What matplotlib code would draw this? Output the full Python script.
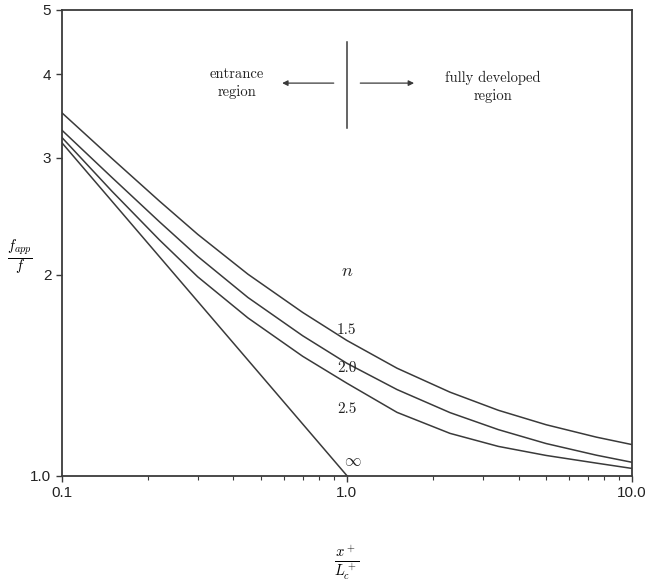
import numpy as np
import matplotlib
matplotlib.use('Agg')
import matplotlib.pyplot as plt
from matplotlib.ticker import FixedLocator, FixedFormatter, NullFormatter, LogLocator

# curves, one per n
x_pts = [0.1, 0.15, 0.22, 0.3, 0.45, 0.7, 1.0, 1.5, 2.3, 3.4, 5.0, 7.5, 10.0]
y_15 = [3.504, 2.991, 2.582, 2.301, 2.005, 1.757, 1.595, 1.449, 1.334, 1.253, 1.192, 1.142, 1.113]
y_20 = [3.300, 2.801, 2.404, 2.132, 1.850, 1.621, 1.474, 1.346, 1.243, 1.172, 1.117, 1.073, 1.047]
y_25 = [3.218, 2.671, 2.258, 1.987, 1.724, 1.510, 1.376, 1.244, 1.157, 1.106, 1.072, 1.044, 1.025]

x_inf = [0.1, 1.0]
y_inf = [3.16, 1.0]

curve_labels = ['1.5', '2.0', '2.5', r'$\infty$']
label_y = [1.65, 1.45, 1.26, 1.05]

xticks = [0.1, 1.0, 10.0]
xtick_labels = ['0.1', '1.0', '10.0']
yticks = [1.0, 2, 3, 4, 5]
ytick_labels = ['1.0', '2', '3', '4', '5']

plt.rcParams['mathtext.fontset'] = 'cm'
ink = '#3a3a3a'

fig = plt.figure(figsize=(6.46, 5.88), dpi=100)
ax = fig.add_axes([0.0955, 0.1912, 0.8828, 0.7923])

for ys in [y_15, y_20, y_25]:
    ax.plot(x_pts, ys, color=ink, lw=1.1)
ax.plot(x_inf, y_inf, color=ink, lw=1.1)

ax.set_xscale('log')
ax.set_yscale('log')
ax.set_xlim(0.1, 10.0)
ax.set_ylim(1.0, 5.0)

ax.xaxis.set_major_locator(FixedLocator(xticks))
ax.xaxis.set_major_formatter(FixedFormatter(xtick_labels))
ax.xaxis.set_minor_locator(LogLocator(base=10, subs=np.arange(2, 10)))
ax.xaxis.set_minor_formatter(NullFormatter())
ax.yaxis.set_major_locator(FixedLocator(yticks))
ax.yaxis.set_major_formatter(FixedFormatter(ytick_labels))
ax.yaxis.set_minor_locator(FixedLocator([]))

ax.tick_params(which='major', direction='out', length=4, width=1, color=ink,
               labelsize=11, labelcolor='#222222')
ax.tick_params(which='minor', direction='out', length=3, width=0.8, color=ink)
for lab in ax.get_xticklabels() + ax.get_yticklabels():
    lab.set_family('Liberation Sans')
for s in ax.spines.values():
    s.set_linewidth(1.3)
    s.set_color(ink)

# curve labels
ax.text(1.0, 2.03, r'$n$', ha='center', va='center', fontsize=13, color='#222222')
for lab, yv in zip(curve_labels, label_y):
    xv = 1.05 if lab.startswith('$') else 1.0
    ax.text(xv, yv, lab, ha='center', va='center', fontsize=12 if lab.startswith('$') else 11,
            family='cmr10', color='#222222')

# region divider and arrows
ax.plot([1.0, 1.0], [3.32, 4.47], color=ink, lw=1.1)
ax.annotate('', xy=(0.58, 3.88), xytext=(0.92, 3.88),
            arrowprops=dict(arrowstyle='-|>', color=ink, lw=0.9, mutation_scale=8))
ax.annotate('', xy=(1.76, 3.88), xytext=(1.09, 3.88),
            arrowprops=dict(arrowstyle='-|>', color=ink, lw=0.9, mutation_scale=8))
ax.text(0.412, 3.88, 'entrance\nregion', ha='center', va='center', fontsize=10.5,
        family='cmr10', color='#222222', linespacing=1.3)
ax.text(3.25, 3.83, 'fully developed\nregion', ha='center', va='center', fontsize=10.5,
        family='cmr10', color='#222222', linespacing=1.3)

ax.text(-0.073, 0.467, r'$\frac{f_{app}}{f}$', transform=ax.transAxes,
        ha='center', va='center', fontsize=15)
ax.text(0.5, -0.188, r'$\frac{x^+}{L_c^+}$', transform=ax.transAxes,
        ha='center', va='center', fontsize=15)

fig.savefig('out.png', dpi=100)
